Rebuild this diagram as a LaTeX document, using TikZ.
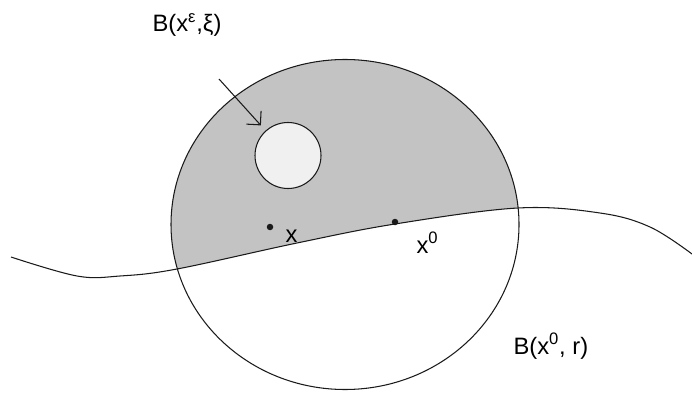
\documentclass[tikz,border=0pt]{standalone}
\usepackage{fontspec}
\setmainfont{Liberation Sans}
\usepackage{tikz}
\usetikzlibrary{positioning,arrows.meta}
\usepackage{xcolor}
\definecolor{regiongray}{HTML}{C3C3C3}
\definecolor{hole}{HTML}{F0F0F0}
\definecolor{ink}{HTML}{1A1A1A}

\begin{document}
\begin{tikzpicture}[>={Straight Barb[angle=90:8pt]}, font=\fontsize{13.5}{16}\selectfont, line width=0.6pt]
        \useasboundingbox (0,0) rectangle (13.84,7.88);
        % shaded part of the ball above the boundary
        \begin{scope}
          \clip plot[smooth, tension=0.6] coordinates {(0.22,2.74) (1.54,2.36) (2.40,2.36) (3.54,2.50) (5.94,3.02) (7.90,3.40) (10.36,3.72) (12.00,3.62) (13.00,3.34) (13.84,2.80)}
                -- (13.84,7.88) -- (0,7.88) -- (0,2.74) -- cycle;
          \fill[regiongray] (6.90,3.39) ellipse [x radius=3.48, y radius=3.30];
        \end{scope}
        \draw[ink] (6.90,3.39) ellipse [x radius=3.48, y radius=3.30];
        \draw[ink] plot[smooth, tension=0.6] coordinates {(0.22,2.74) (1.54,2.36) (2.40,2.36) (3.54,2.50) (5.94,3.02) (7.90,3.40) (10.36,3.72) (12.00,3.62) (13.00,3.34) (13.84,2.80)};
        \node[circle, draw=ink, fill=hole, minimum size=1.32cm, inner sep=0pt] (ball) at (5.76,4.77) {};
        \coordinate (tail) at (4.38,6.30);
        \draw[ink, ->, shorten >=0.14cm] (tail) -- (ball);
        \node[circle, fill=ink, inner sep=0pt, minimum size=0.13cm] (px) at (5.40,3.34) {};
        \node[circle, fill=ink, inner sep=0pt, minimum size=0.13cm] (pzero) at (7.90,3.44) {};
        \node[anchor=base west, inner sep=0pt] (lball) at (3.04,7.24) {B(x\textsuperscript{ε},ξ)};
        \node[anchor=base west, inner sep=0pt] (lx) at (5.70,3.04) {x};
        \node[anchor=base west, inner sep=0pt] (lzero) at (8.32,2.82) {x\textsuperscript{0}};
        \node[anchor=base west, inner sep=0pt] (lbig) at (10.26,0.80) {B(x\textsuperscript{0}, r)};
      \end{tikzpicture}
\end{document}
